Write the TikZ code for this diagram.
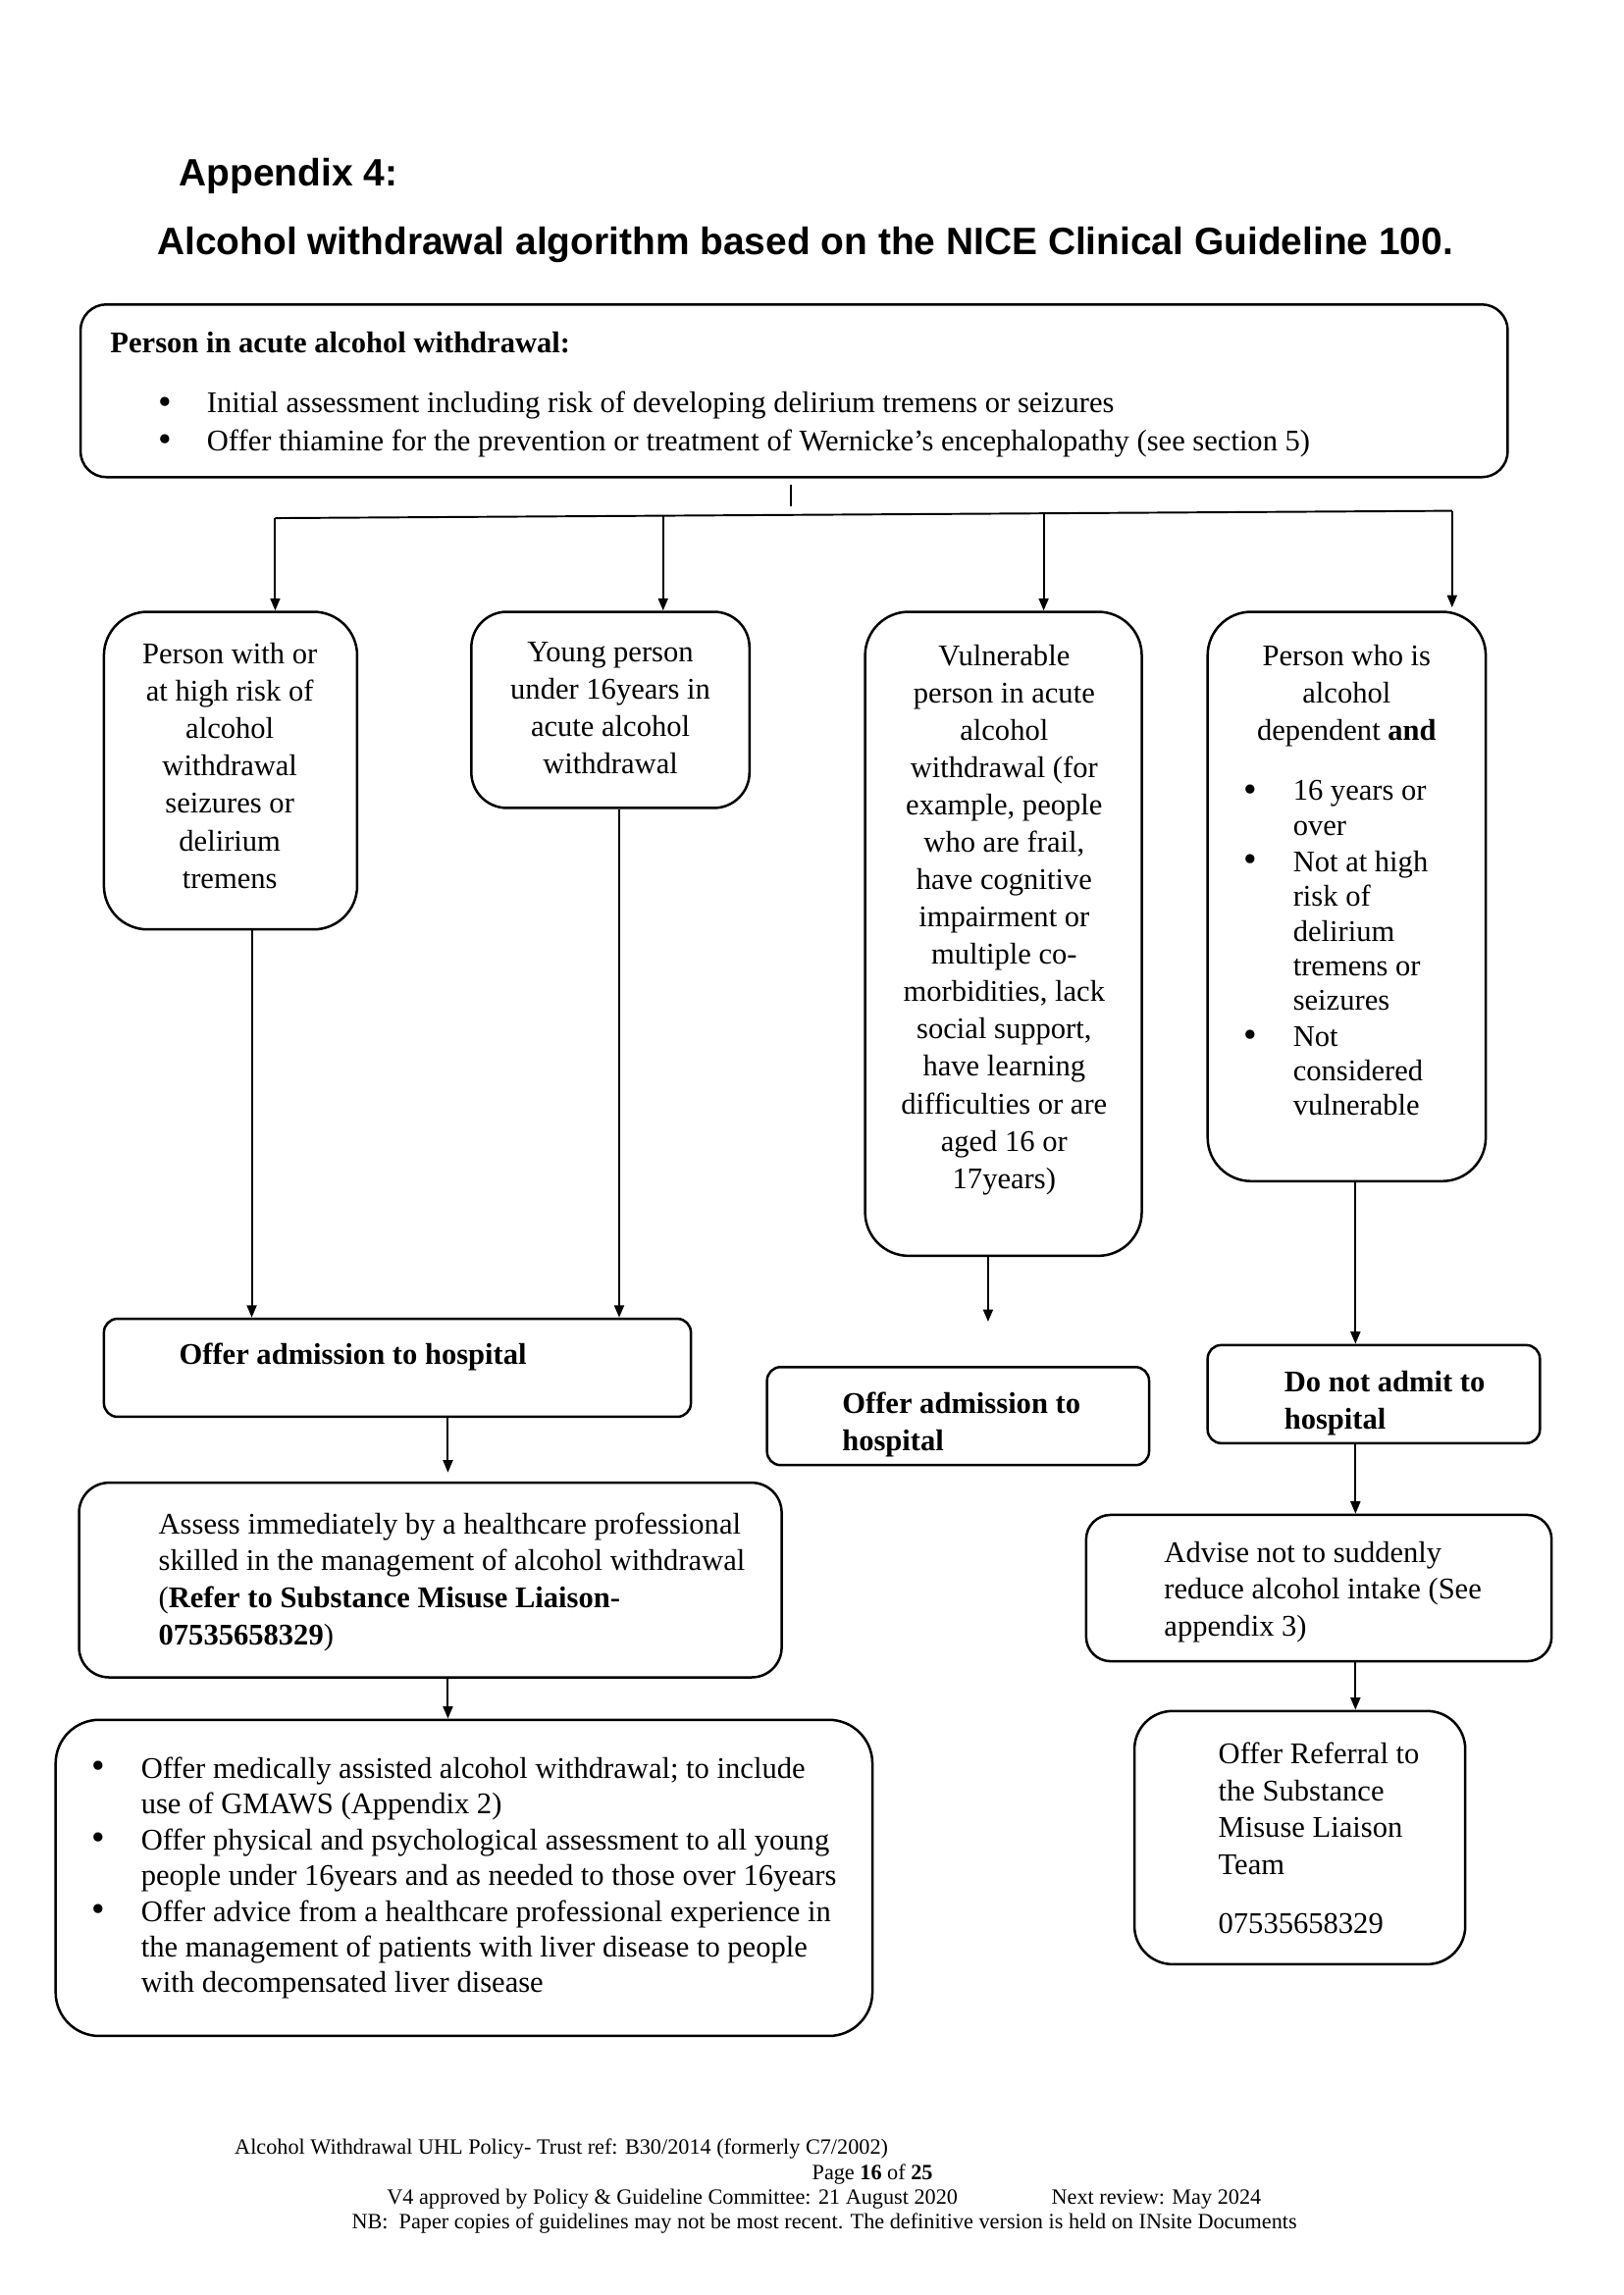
\documentclass[tikz,border=0pt]{standalone}
\usepackage{fontspec}
\setmainfont{Liberation Serif}
\newfontfamily\headfont{Liberation Sans}
\usetikzlibrary{arrows.meta,fit}
\begin{document}
\begin{tikzpicture}[x=0.5368pt,y=-0.5368pt,
  box/.style={draw, line width=0.9pt, inner sep=0pt},
  arr/.style={line width=0.7pt, -{Triangle[length=4.5pt,width=3.6pt]}},
  plainline/.style={line width=0.7pt},
  txt/.style={inner sep=0pt, yshift=-1.1pt, font=\fontsize{11}{13.7}\selectfont},
  ctxt/.style={txt, align=center, anchor=north},
  ltxt/.style={txt, align=left, anchor=north west},
  btxt/.style={txt, anchor=base west, font=\fontsize{11}{13.7}\selectfont\bfseries},
  bul/.style={inner sep=0pt, yshift=-1.1pt, anchor=center, font=\fontsize{14}{14}\selectfont},
  head/.style={inner sep=0pt, anchor=base west, font=\headfont\bfseries\fontsize{14}{16}\selectfont},
  foot/.style={inner sep=0pt, yshift=-1.6pt, font=\fontsize{8}{9.2}\selectfont},
]
\useasboundingbox (0,0) rectangle (1109,1568);

% titles
\node[head] (t1) at (122,127) {Appendix 4:};
\node[head] (t2) at (107,174) {Alcohol withdrawal algorithm based on the NICE Clinical Guideline 100.};

% top box
\node[box, rounded corners=9.5pt, fit={(55,208) (1030,326)}] (top) {};
\node[btxt] (toph) at (75,239) {Person in acute alcohol withdrawal:};
\node[bul] (tb1) at (113,275) {•};
\node[txt, anchor=base west] (tt1) at (141,280) {Initial assessment including risk of developing delirium tremens or seizures};
\node[bul] (tb2) at (113,301) {•};
\node[txt, anchor=base west] (tt2) at (141,306) {Offer thiamine for the prevention or treatment of Wernicke’s encephalopathy (see section 5)};

% four category boxes
\node[box, rounded corners=16pt, fit={(71,418) (244,635)}] (A) {};
\node[ctxt] (Atxt) at (157,437) {Person with or\\at high risk of\\alcohol\\withdrawal\\seizures or\\delirium\\tremens};

\node[box, rounded corners=13pt, fit={(322,418) (512,552)}] (B) {};
\node[ctxt] (Btxt) at (417,436) {Young person\\under 16years in\\acute alcohol\\withdrawal};

\node[box, rounded corners=16pt, fit={(591,418) (780,858)}] (C) {};
\node[ctxt] (Ctxt) at (686,438) {Vulnerable\\person in acute\\alcohol\\withdrawal (for\\example, people\\who are frail,\\have cognitive\\impairment or\\multiple co-\\morbidities, lack\\social support,\\have learning\\difficulties or are\\aged 16 or\\17years)};

\node[box, rounded corners=16pt, fit={(825,418) (1015,807)}] (D) {};
\node[ctxt] (Dtxt) at (920,438) {Person who is\\alcohol\\dependent \textbf{and}};
\node[bul] (Db1) at (854,540) {•};
\node[ltxt, font=\fontsize{11}{12.7}\selectfont] (Dt1) at (883,531) {16 years or\\over};
\node[bul] (Db2) at (854,588) {•};
\node[ltxt, font=\fontsize{11}{12.7}\selectfont] (Dt2) at (883,579) {Not at high\\risk of\\delirium\\tremens or\\seizures};
\node[bul] (Db3) at (854,708) {•};
\node[ltxt, font=\fontsize{11}{12.7}\selectfont] (Dt3) at (883,699) {Not\\considered\\vulnerable};

% outcome boxes
\node[box, rounded corners=5pt, fit={(71,901) (472,968)}] (E) {};
\node[btxt] (Etxt) at (122,930) {Offer admission to hospital};

\node[box, rounded corners=5pt, fit={(524,934) (785,1001)}] (G) {};
\node[ltxt, font=\fontsize{11}{13.7}\selectfont\bfseries] (Gtxt) at (575,949) {Offer admission to\\hospital};

\node[box, rounded corners=5pt, fit={(825,919) (1052,986)}] (H) {};
\node[ltxt, font=\fontsize{11}{13.7}\selectfont\bfseries] (Htxt) at (877,934) {Do not admit to\\hospital};

\node[box, rounded corners=11pt, fit={(54,1013) (534,1146)}] (F) {};
\node[ltxt, font=\fontsize{11}{13.6}\selectfont] (Ftxt) at (108,1031) {Assess immediately by a healthcare professional\\skilled in the management of alcohol withdrawal\\(\textbf{Refer to Substance Misuse Liaison-}\\\textbf{07535658329})};

\node[box, rounded corners=16pt, fit={(38,1175) (596,1391)}] (I) {};
\node[bul] (Ib1) at (67,1207) {•};
\node[ltxt, font=\fontsize{11}{13.0}\selectfont] (It1) at (96,1198) {Offer medically assisted alcohol withdrawal; to include\\use of GMAWS (Appendix 2)};
\node[bul] (Ib2) at (67,1256) {•};
\node[ltxt, font=\fontsize{11}{13.0}\selectfont] (It2) at (96,1247) {Offer physical and psychological assessment to all young\\people under 16years and as needed to those over 16years};
\node[bul] (Ib3) at (67,1305) {•};
\node[ltxt, font=\fontsize{11}{13.0}\selectfont] (It3) at (96,1296) {Offer advice from a healthcare professional experience in\\the management of patients with liver disease to people\\with decompensated liver disease};

\node[box, rounded corners=9pt, fit={(742,1035) (1060,1135)}] (J) {};
\node[ltxt, font=\fontsize{11}{13.4}\selectfont] (Jtxt) at (795,1051) {Advise not to suddenly\\reduce alcohol intake (See\\appendix 3)};

\node[box, rounded corners=14pt, fit={(775,1169) (1001,1342)}] (K) {};
\node[ltxt, font=\fontsize{11}{13.6}\selectfont] (Ktxt) at (832,1188) {Offer Referral to\\the Substance\\Misuse Liaison\\Team\\[7.9pt]07535658329};

% connectors
\coordinate (tk0) at (540,331);
\coordinate (tk1) at (540,346);
\draw[plainline] (tk0) -- (tk1);
\coordinate (hl) at (188,354);
\coordinate (h2) at (453,352.4);
\coordinate (h3) at (713,350.7);
\coordinate (hr) at (992,349);
\coordinate (hrend) at (992,415);
\draw[plainline] (hl) -- (hr);
\draw[arr] (hl) -- (A.north -| hl);
\draw[arr] (h2) -- (B.north -| h2);
\draw[arr] (h3) -- (C.north -| h3);
\draw[arr] (hr) -- (hrend);

\coordinate (xa) at (172,0);
\coordinate (xb) at (423,0);
\coordinate (xd) at (926,0);
\coordinate (xe) at (306,0);
\coordinate (cend) at (675,903);
\coordinate (fend) at (306,1006);
\draw[arr] (A.south -| xa) -- (E.north -| xa);
\draw[arr] (B.south -| xb) -- (E.north -| xb);
\draw[arr] (C.south -| cend) -- (cend);
\draw[arr] (D.south -| xd) -- (H.north -| xd);
\draw[arr] (E.south -| xe) -- (fend);
\draw[arr] (F.south -| xe) -- (I.north -| xe);
\draw[arr] (H.south -| xd) -- (J.north -| xd);
\draw[arr] (J.south -| xd) -- (K.north -| xd);

% footer
\node[foot, anchor=base west] (f1) at (160,1469) {Alcohol Withdrawal UHL Policy- Trust ref: B30/2014 (formerly C7/2002)};
\node[foot, anchor=base] (f2) at (596,1486) {Page \textbf{16} of \textbf{25}};
\node[foot, anchor=base west] (f3) at (264,1503) {V4 approved by Policy \& Guideline Committee: 21 August 2020};
\node[foot, anchor=base west] (f3b) at (718,1503) {Next review: May 2024};
\node[foot, anchor=base west] (f4) at (240,1520) {NB:\ \ Paper copies of guidelines may not be most recent. The definitive version is held on INsite Documents};
\end{tikzpicture}
\end{document}
